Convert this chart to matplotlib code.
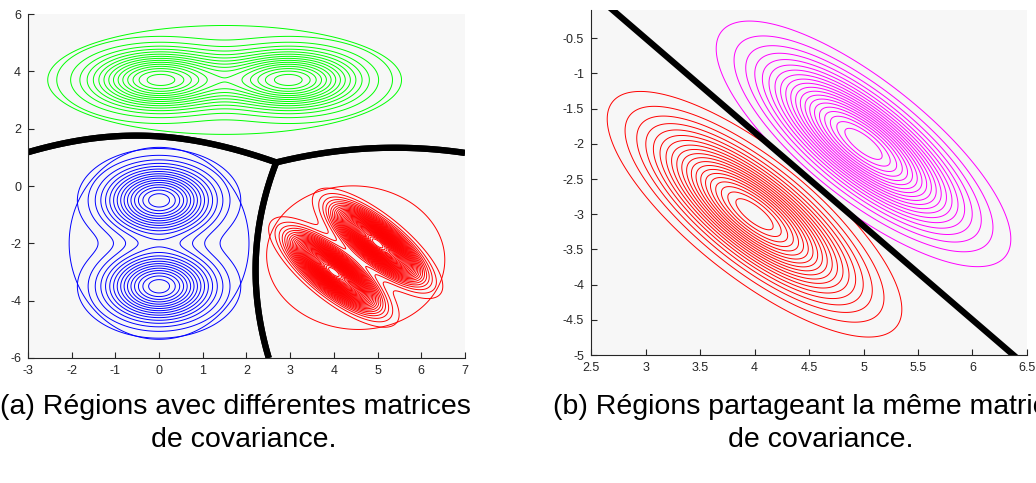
import numpy as np
import matplotlib.pyplot as plt

plt.rcParams['font.family'] = ['Liberation Sans', 'DejaVu Sans']
plt.rcParams['axes.unicode_minus'] = False

# (a) each class: two generating gaussians (contours) and the single
#     gaussian fitted to the class (outer ellipse, quadratic boundaries)
blue_means = [(0.0, -0.5), (0.0, -3.5)]
blue_cov = [[0.62, 0.0], [0.0, 0.58]]
blue_fit_mean = (0.0, -2.0)
blue_fit_cov = [[0.54, 0.0], [0.0, 1.43]]

green_means = [(0.0, 3.7), (3.0, 3.7)]
green_cov = [[1.0, 0.0], [0.0, 0.42]]
green_fit_mean = (1.5, 3.7)
green_fit_cov = [[2.09, 0.0], [0.0, 0.46]]

red_means = [(4.0, -3.0), (5.0, -2.0)]
red_cov = [[0.3, -0.3], [-0.3, 0.5]]
red_fit_mean = (4.5, -2.5)
red_fit_cov = [[0.53, -0.02], [-0.02, 0.80]]

fit_radius = 2.8   # mahalanobis radius of the fitted ellipses
n_levels_a = 40

# (b) two classes sharing one covariance matrix
shared_cov = [[0.3, -0.3], [-0.3, 0.5]]
red_mean_b = (4.0, -3.0)
magenta_mean_b = (5.0, -2.0)
n_levels_b = 20

caption_a = ['(a) Régions avec différentes matrices', 'de covariance.']
caption_b = ['(b) Régions partageant la même matrice', 'de covariance.']


def mahal2(X, Y, mu, cov):
    inv = np.linalg.inv(np.asarray(cov))
    dx = X - mu[0]
    dy = Y - mu[1]
    return inv[0, 0]*dx*dx + 2*inv[0, 1]*dx*dy + inv[1, 1]*dy*dy


def gauss(X, Y, mu, cov):
    return np.exp(-0.5*mahal2(X, Y, mu, cov)) / (2*np.pi*np.sqrt(np.linalg.det(cov)))


def log_gauss(X, Y, mu, cov):
    return -0.5*mahal2(X, Y, mu, cov) - 0.5*np.log(np.linalg.det(cov))


def style(ax):
    ax.set_facecolor('#f7f7f7')
    for s in ['top', 'right']:
        ax.spines[s].set_visible(False)
    for s in ['left', 'bottom']:
        ax.spines[s].set(color='#262626', linewidth=0.8)
    ax.tick_params(direction='in', length=4, width=0.8, color='#262626',
                   labelcolor='#262626', labelsize=9, pad=5)


fig = plt.figure(figsize=(10.36, 4.83), dpi=100)

# ---- panel (a)
ax1 = fig.add_axes([0.027, 0.2588, 0.4218, 0.7122])
x = np.linspace(-3, 7, 600)
y = np.linspace(-6, 6, 600)
X, Y = np.meshgrid(x, y)

classes = [
    (green_means, green_cov, green_fit_mean, green_fit_cov, '#00ff00'),
    (blue_means, blue_cov, blue_fit_mean, blue_fit_cov, '#0000ff'),
    (red_means, red_cov, red_fit_mean, red_fit_cov, '#ff0000'),
]
dens = [0.5*gauss(X, Y, m[0], cv) + 0.5*gauss(X, Y, m[1], cv) for m, cv, _, _, _ in classes]
top = max(Z.max() for Z in dens)
lev = np.linspace(0, top, n_levels_a + 2)[1:-1]

for Z, (m, cv, fm, fc, col) in zip(dens, classes):
    ax1.contour(X, Y, Z, levels=lev, colors=col, linewidths=0.7)
    ax1.contour(X, Y, mahal2(X, Y, fm, fc), levels=[fit_radius**2],
                colors=col, linewidths=0.7)

# quadratic boundaries of the fitted gaussians
L = np.stack([log_gauss(X, Y, fm, fc) for _, _, fm, fc, _ in classes])
for i in range(3):
    others = np.delete(L, i, axis=0).max(axis=0)
    ax1.contour(X, Y, L[i] - others, levels=[0], colors='k', linewidths=4.5)

ax1.set(xlim=(-3, 7), ylim=(-6, 6))
ax1.set_xticks(np.arange(-3, 8, 1))
ax1.set_yticks(np.arange(-6, 7, 2))
style(ax1)

# ---- panel (b)
ax2 = fig.add_axes([0.5705, 0.265, 0.4208, 0.714])
x2 = np.linspace(2.5, 6.5, 500)
y2 = np.linspace(-5, -0.1, 500)
X2, Y2 = np.meshgrid(x2, y2)
Zr2 = gauss(X2, Y2, red_mean_b, shared_cov)
Zm2 = gauss(X2, Y2, magenta_mean_b, shared_cov)
lev2 = np.linspace(0, Zr2.max(), n_levels_b + 2)[1:-1]
ax2.contour(X2, Y2, Zr2, levels=lev2, colors='#ff0000', linewidths=0.7)
ax2.contour(X2, Y2, Zm2, levels=lev2, colors='#ff00ff', linewidths=0.7)

# linear boundary w.x = c for equal priors
inv = np.linalg.inv(np.asarray(shared_cov))
mr = np.asarray(red_mean_b)
mm = np.asarray(magenta_mean_b)
w = inv @ (mm - mr)
c = w @ (mm + mr) / 2
xl = np.linspace(2.5, 6.5, 50)
ax2.plot(xl, (c - w[0]*xl) / w[1], color='k', linewidth=4.5, solid_capstyle='butt')

ax2.set(xlim=(2.5, 6.5), ylim=(-5, -0.1))
xt = np.arange(2.5, 6.51, 0.5)
yt = np.arange(-5, -0.49, 0.5)
ax2.set_xticks(xt, ['%g' % v for v in xt])
ax2.set_yticks(yt, ['%g' % v for v in yt])
style(ax2)

# captions
fig.text(0.0, 0.157, caption_a[0], ha='left', va='center', fontsize=20.5)
fig.text(0.2355, 0.089, caption_a[1], ha='center', va='center', fontsize=20.5)
fig.text(0.534, 0.157, caption_b[0], ha='left', va='center', fontsize=20.5)
fig.text(0.7925, 0.089, caption_b[1], ha='center', va='center', fontsize=20.5)

fig.savefig('out.png', dpi=100)
